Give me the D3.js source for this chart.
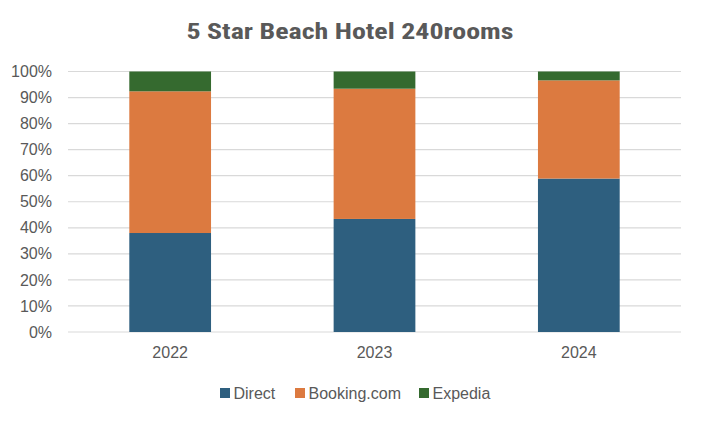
<!DOCTYPE html>
<html>
<head>
<meta charset="utf-8">
<script src="https://cdn.jsdelivr.net/npm/d3@7"></script>
<style>
  body { margin: 0; background: #fff; }
  text { font-family: "Liberation Sans", Arial, sans-serif; fill: #595959; }
</style>
</head>
<body>
<svg id="chart" width="701" height="421"></svg>
<script>
const years = ["2022", "2023", "2024"];
const seriesNames = ["Direct", "Booking.com", "Expedia"];
const direct = [38.0, 43.4, 58.9];
const booking = [54.4, 50.0, 37.7];
const expedia = [7.6, 6.6, 3.4];
const yTicks = [0, 10, 20, 30, 40, 50, 60, 70, 80, 90, 100];
const colors = ["#2E5F7F", "#DC7A40", "#356A2F"];

const svg = d3.select('#chart');
const width = +svg.attr('width');
const height = +svg.attr('height');
const margin = {top: 71.5, right: 20, bottom: 89, left: 68};

// rows for the stack
const rows = years.map((y, i) => ({
  year: y, "Direct": direct[i], "Booking.com": booking[i], "Expedia": expedia[i]
}));
const stacked = d3.stack().keys(seriesNames)(rows);

const x = d3.scaleBand()
  .domain(years)
  .range([margin.left, width - margin.right])
  .paddingInner(0.6)
  .paddingOuter(0.3);

const y = d3.scaleLinear()
  .domain([0, 100])
  .range([height - margin.bottom, margin.top]);

const color = d3.scaleOrdinal().domain(seriesNames).range(colors);

// gridlines
svg.append("g")
  .selectAll("line")
  .data(yTicks)
  .join("line")
  .attr("x1", margin.left)
  .attr("x2", width - margin.right)
  .attr("y1", d => y(d))
  .attr("y2", d => y(d))
  .attr("stroke", "#d9d9d9")
  .attr("stroke-width", 1.2);

// y axis labels
const yAxis = svg.append("g")
  .attr("transform", `translate(${margin.left},0)`)
  .call(d3.axisLeft(y).tickValues(yTicks).tickFormat(d => d + "%").tickSize(0).tickPadding(16));
yAxis.select(".domain").remove();
yAxis.selectAll("text").style("font-size", "16px").attr("fill", "#595959");

// bars
svg.append("g")
  .selectAll("g")
  .data(stacked)
  .join("g")
  .attr("fill", d => color(d.key))
  .selectAll("rect")
  .data(d => d)
  .join("rect")
  .attr("x", d => x(d.data.year))
  .attr("width", x.bandwidth())
  .attr("y", d => y(d[1]))
  .attr("height", d => y(d[0]) - y(d[1]));

// x axis labels
const xAxis = svg.append("g")
  .attr("transform", `translate(0,${height - margin.bottom})`)
  .call(d3.axisBottom(x).tickSize(0).tickPadding(15));
xAxis.select(".domain").remove();
xAxis.selectAll("text").style("font-size", "16px").attr("fill", "#595959");

// title
svg.append("text")
  .attr("x", 350)
  .attr("y", 38.5)
  .attr("text-anchor", "middle")
  .style("font-family", "'Liberation Sans Narrow', 'Roboto Condensed', 'Liberation Sans', sans-serif")
  .style("font-weight", "bold")
  .style("font-size", "22px")
  .attr("textLength", 327)
  .attr("lengthAdjust", "spacingAndGlyphs")
  .text("5 Star Beach Hotel 240rooms");

// legend
const legendX = [220, 295, 419];
const legend = svg.append("g")
  .selectAll("g")
  .data(seriesNames)
  .join("g")
  .attr("transform", (d, i) => `translate(${legendX[i]},388)`);
legend.append("rect")
  .attr("width", 10)
  .attr("height", 10)
  .attr("y", 0)
  .attr("fill", d => color(d));
legend.append("text")
  .attr("x", 13.5)
  .attr("y", 11)
  .style("font-size", "16px")
  .text(d => d);
</script>
</body>
</html>
